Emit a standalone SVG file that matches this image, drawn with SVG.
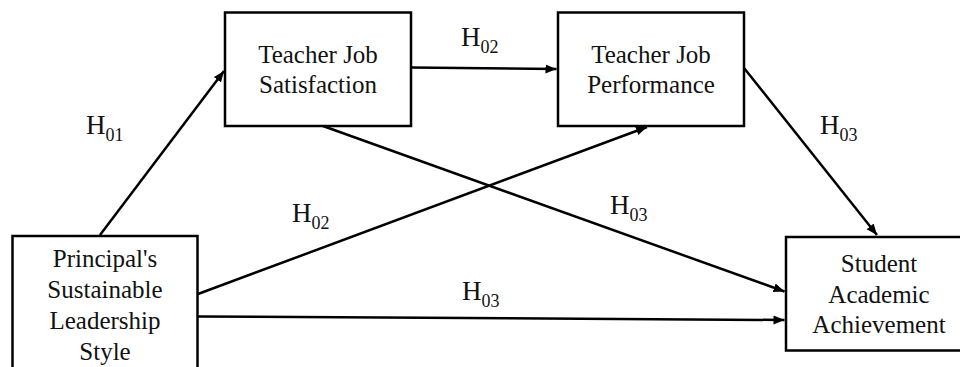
<svg xmlns="http://www.w3.org/2000/svg" width="960" height="367" viewBox="0 0 960 367">
<defs>
<marker id="ah" markerUnits="userSpaceOnUse" markerWidth="12" markerHeight="10" viewBox="0 0 12 10" refX="11" refY="5" orient="auto">
<path d="M0,0.5 L11,5 L0,9.5 z" fill="#000"/>
</marker>
</defs>
<g id="connectors" stroke="#000" stroke-width="2.5" marker-end="url(#ah)">
<line x1="100" y1="235" x2="224" y2="71"/>
<line x1="411" y1="67.5" x2="556.5" y2="69"/>
<line x1="323" y1="126" x2="784.5" y2="291.5"/>
<line x1="198" y1="294" x2="647" y2="127"/>
<line x1="198" y1="316.5" x2="784.5" y2="320"/>
<line x1="744" y1="68" x2="877" y2="235"/>
</g>
<g id="tjs">
<rect x="225" y="12.5" width="186" height="113.5" fill="#fff" stroke="#000" stroke-width="2.5"/>
<text x="318" y="63" style="font-family:'Liberation Serif',serif;font-size:25px;text-anchor:middle;fill:#111">Teacher Job</text>
<text x="318" y="93" style="font-family:'Liberation Serif',serif;font-size:25px;text-anchor:middle;fill:#111">Satisfaction</text>
</g>
<g id="tjp">
<rect x="558" y="12.5" width="186" height="113.5" fill="#fff" stroke="#000" stroke-width="2.5"/>
<text x="651" y="63" style="font-family:'Liberation Serif',serif;font-size:25px;text-anchor:middle;fill:#111">Teacher Job</text>
<text x="651" y="93" style="font-family:'Liberation Serif',serif;font-size:25px;text-anchor:middle;fill:#111">Performance</text>
</g>
<g id="psls">
<rect x="12.5" y="236" width="185" height="150" fill="#fff" stroke="#000" stroke-width="2.5"/>
<text x="105" y="267" style="font-family:'Liberation Serif',serif;font-size:25px;text-anchor:middle;fill:#111">Principal's</text>
<text x="105" y="298" style="font-family:'Liberation Serif',serif;font-size:25px;text-anchor:middle;fill:#111">Sustainable</text>
<text x="105" y="329" style="font-family:'Liberation Serif',serif;font-size:25px;text-anchor:middle;fill:#111">Leadership</text>
<text x="105" y="359.5" style="font-family:'Liberation Serif',serif;font-size:25px;text-anchor:middle;fill:#111">Style</text>
</g>
<g id="saa">
<rect x="786" y="237" width="186" height="113.5" fill="#fff" stroke="#000" stroke-width="2.5"/>
<text x="879" y="272" style="font-family:'Liberation Serif',serif;font-size:25px;text-anchor:middle;fill:#111">Student</text>
<text x="879" y="302.5" style="font-family:'Liberation Serif',serif;font-size:25px;text-anchor:middle;fill:#111">Academic</text>
<text x="879" y="333" style="font-family:'Liberation Serif',serif;font-size:25px;text-anchor:middle;fill:#111">Achievement</text>
</g>
<g id="labels">
<text x="86" y="134" style="font-family:'Liberation Serif',serif;font-size:27px;fill:#111">H<tspan style="font-size:18px" dy="7">01</tspan></text>
<text x="461" y="46" style="font-family:'Liberation Serif',serif;font-size:27px;fill:#111">H<tspan style="font-size:18px" dy="7">02</tspan></text>
<text x="820" y="134" style="font-family:'Liberation Serif',serif;font-size:27px;fill:#111">H<tspan style="font-size:18px" dy="7">03</tspan></text>
<text x="292" y="222" style="font-family:'Liberation Serif',serif;font-size:27px;fill:#111">H<tspan style="font-size:18px" dy="7">02</tspan></text>
<text x="610" y="214" style="font-family:'Liberation Serif',serif;font-size:27px;fill:#111">H<tspan style="font-size:18px" dy="7">03</tspan></text>
<text x="462" y="300" style="font-family:'Liberation Serif',serif;font-size:27px;fill:#111">H<tspan style="font-size:18px" dy="7">03</tspan></text>
</g>
</svg>
